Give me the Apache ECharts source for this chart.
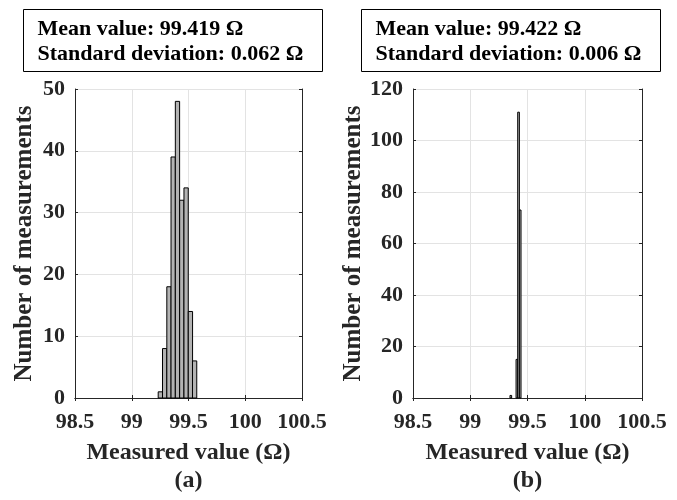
<!DOCTYPE html>
<html>
<head>
<meta charset="utf-8">
<script src="https://cdn.jsdelivr.net/npm/echarts@6/dist/echarts.min.js"></script>
<style>
  html, body { margin: 0; padding: 0; background: #ffffff; }
  #chart { width: 677px; height: 500px; }
</style>
</head>
<body>
<div id="chart"></div>
<script>
// Histogram (a): bin start edges (Ω), common bin width, and counts
const binStartA = [99.233, 99.271, 99.309, 99.346, 99.384, 99.422, 99.460, 99.498, 99.535];
const binWidthA = 0.0378;
const countsA = [1, 8, 18, 39, 48, 32, 34, 14, 6];

// Histogram (b): bin start edges (Ω), common bin width, and counts
const binStartB = [99.347, 99.400, 99.4145, 99.429];
const binWidthB = 0.0145;
const countsB = [1, 15, 111, 73];

// Axis settings
const xTicks = { min: 98.5, max: 100.5, interval: 0.5 };
const yTicksA = { min: 0, max: 50, interval: 10 };
const yTicksB = { min: 0, max: 120, interval: 20 };

// Summary statistics shown above each panel
const statsA = ['Mean value: 99.419 Ω', 'Standard deviation: 0.062 Ω'];
const statsB = ['Mean value: 99.422 Ω', 'Standard deviation: 0.006 Ω'];
const panelTags = ['(a)', '(b)'];

const FONT = '"Liberation Serif", "Times New Roman", serif';
const AXIS_COLOR = '#262626';

function histData(starts, width, counts) {
  return starts.map((s, i) => [s, s + width, counts[i]]);
}

function renderBar(params, api) {
  const topLeft = api.coord([api.value(0), api.value(2)]);
  const bottomRight = api.coord([api.value(1), 0]);
  return {
    type: 'rect',
    shape: {
      x: topLeft[0],
      y: topLeft[1],
      width: bottomRight[0] - topLeft[0],
      height: bottomRight[1] - topLeft[1]
    },
    style: { fill: '#b3b3b3', stroke: '#000000', lineWidth: 1 }
  };
}

function xAxes(gridIndex, tag) {
  return [
    {
      type: 'value', gridIndex, ...xTicks, position: 'bottom',
      name: 'Measured value (Ω)\n' + tag,
      nameLocation: 'middle', nameGap: 41,
      nameTextStyle: { fontFamily: FONT, fontWeight: 'bold', fontSize: 24, color: AXIS_COLOR, lineHeight: 28, verticalAlign: 'top' },
      axisLine: { show: true, lineStyle: { color: AXIS_COLOR, width: 1 } },
      axisTick: { show: true, inside: true, length: 3, lineStyle: { color: AXIS_COLOR } },
      axisLabel: { fontFamily: FONT, fontWeight: 'bold', fontSize: 22, color: AXIS_COLOR, margin: 13 },
      splitLine: { show: true, lineStyle: { color: '#e3e3e3', width: 1 } }
    },
    {
      type: 'value', gridIndex, ...xTicks, position: 'top',
      axisLine: { show: true, lineStyle: { color: AXIS_COLOR, width: 1 } },
      axisTick: { show: true, inside: true, length: 3, lineStyle: { color: AXIS_COLOR } },
      axisLabel: { show: false },
      splitLine: { show: false }
    }
  ];
}

function yAxes(gridIndex, ticks) {
  return [
    {
      type: 'value', gridIndex, ...ticks, position: 'left',
      name: 'Number of measurements',
      nameLocation: 'middle', nameGap: 38,
      nameTextStyle: { fontFamily: FONT, fontWeight: 'bold', fontSize: 25, color: AXIS_COLOR },
      axisLine: { show: true, lineStyle: { color: AXIS_COLOR, width: 1 } },
      axisTick: { show: true, inside: true, length: 3, lineStyle: { color: AXIS_COLOR } },
      axisLabel: { fontFamily: FONT, fontWeight: 'bold', fontSize: 22, color: AXIS_COLOR, margin: 10 },
      splitLine: { show: true, lineStyle: { color: '#e3e3e3', width: 1 } }
    },
    {
      type: 'value', gridIndex, ...ticks, position: 'right',
      axisLine: { show: true, lineStyle: { color: AXIS_COLOR, width: 1 } },
      axisTick: { show: true, inside: true, length: 3, lineStyle: { color: AXIS_COLOR } },
      axisLabel: { show: false },
      splitLine: { show: false }
    }
  ];
}

function statsBox(left, lines) {
  return {
    type: 'group', left: left, top: 9,
    children: [
      {
        type: 'rect', shape: { x: 0, y: 0, width: 299, height: 62 },
        style: { fill: '#ffffff', stroke: '#000000', lineWidth: 1 }
      },
      {
        type: 'text', x: 14, y: 7,
        style: {
          text: lines.join('\n'), fontFamily: FONT, fontWeight: 'bold',
          fontSize: 22, lineHeight: 25, fill: '#000000'
        }
      }
    ]
  };
}

const chart = echarts.init(document.getElementById('chart'), null, { renderer: 'canvas' });

chart.setOption({
  backgroundColor: '#ffffff',
  animation: false,
  grid: [
    { left: 75, right: 375, top: 89, bottom: 97, containLabel: false },
    { left: 413, right: 35, top: 89, bottom: 97, containLabel: false }
  ],
  xAxis: [...xAxes(0, panelTags[0]), ...xAxes(1, panelTags[1])],
  yAxis: [...yAxes(0, yTicksA), ...yAxes(1, yTicksB)],
  series: [
    {
      type: 'custom', xAxisIndex: 0, yAxisIndex: 0,
      renderItem: renderBar, encode: { x: [0, 1], y: 2 },
      data: histData(binStartA, binWidthA, countsA)
    },
    {
      type: 'custom', xAxisIndex: 2, yAxisIndex: 2,
      renderItem: renderBar, encode: { x: [0, 1], y: 2 },
      data: histData(binStartB, binWidthB, countsB)
    }
  ],
  graphic: [statsBox(23, statsA), statsBox(361, statsB)]
});
</script>
</body>
</html>
